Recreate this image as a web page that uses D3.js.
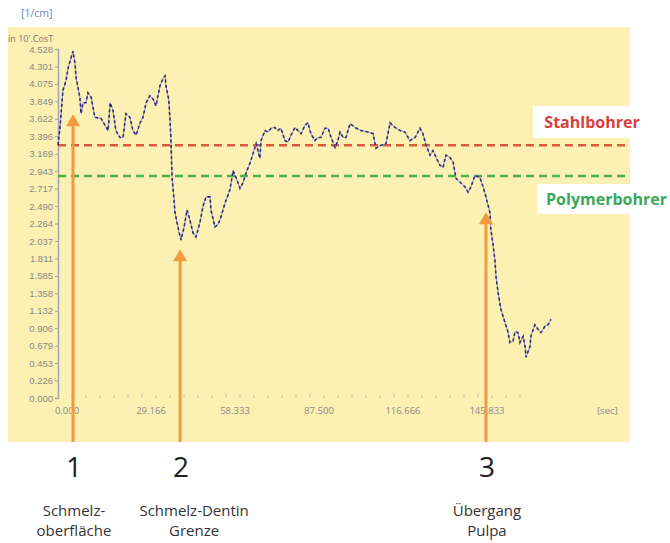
<!DOCTYPE html>
<html lang="de">
<head>
    <meta charset="UTF-8">
    <title>Bohrkurve</title>
    <script src="https://d3js.org/d3.v7.min.js"></script>
    <style>
        body {
            margin: 0;
            background: #ffffff;
            font-family: "Open Sans", "Liberation Sans", Arial, sans-serif;
        }
        .tick-label { fill: #8a8a8a; font-size: 9.5px; }
        .num { fill: #222; font-size: 28px; text-anchor: middle; }
        .desc { fill: #333; font-size: 15px; text-anchor: middle; }
    </style>
</head>
<body>
<svg id="chart" width="670" height="543"></svg>
<script>
    // measured curve: position and signal
    const position = [0, 0.7, 1.7, 2.8, 3.5, 4.5, 5.2, 5.9, 6.3, 7.6, 8.0, 8.7, 9.7, 10.4, 11.5, 12.8, 14.9, 16.3, 17.4, 18.1,
        19.1, 20.1, 21.5, 22.6, 23.6, 25.0, 26.0, 27.1, 28.5, 29.5, 30.6, 31.9, 33.0, 34.0, 35.4, 36.5, 37.2, 37.5, 38.5, 39.2,
        39.6, 40.3, 40.6, 41.7, 42.7, 43.8, 44.8, 45.8, 46.9, 47.9, 49.3, 50.3, 51.4, 52.8, 53.1, 54.5, 55.6, 56.6, 58.0, 59.7,
        60.8, 61.8, 63.2, 64.2, 65.3, 66.7, 67.7, 68.8, 70.1, 70.5, 71.9, 72.9, 74.0, 75.3, 76.4, 77.4, 78.8, 79.9, 80.9, 82.3,
        83.3, 84.4, 85.8, 86.8, 87.8, 89.2, 90.3, 91.3, 92.7, 93.8, 94.8, 96.2, 97.2, 97.9, 99.0, 100.0, 101.4, 103.1, 105.2, 107.6,
        109.4, 110.4, 112.2, 113.9, 115.3, 117.0, 118.8, 120.5, 122.2, 124.0, 125.7, 126.7, 127.8, 129.2, 130.2, 131.3, 132.6, 133.7, 134.7, 136.1,
        137.2, 138.2, 139.9, 141.3, 142.4, 143.4, 144.8, 146.5, 147.6, 148.6, 150.0, 150.3, 151.0, 151.7, 152.1, 152.8, 153.8, 155.2, 156.3, 156.9,
        158.0, 158.7, 159.7, 160.4, 161.5, 162.2, 162.5, 163.9, 164.2, 165.6, 166.7, 167.7, 169.1, 170.1, 171.2];
    const signal = [3.28, 3.51, 3.99, 4.12, 4.28, 4.41, 4.50, 4.34, 4.15, 3.90, 3.69, 3.83, 3.83, 3.96, 3.90, 3.64, 3.63, 3.54, 3.47, 3.83,
        3.73, 3.47, 3.38, 3.38, 3.69, 3.64, 3.47, 3.41, 3.57, 3.64, 3.83, 3.92, 3.88, 3.79, 4.05, 4.15, 4.18, 4.05, 3.86, 3.38,
        2.86, 2.57, 2.41, 2.21, 2.05, 2.22, 2.44, 2.31, 2.14, 2.09, 2.28, 2.48, 2.61, 2.61, 2.44, 2.22, 2.25, 2.35, 2.53, 2.70,
        2.95, 2.86, 2.72, 2.79, 2.92, 3.05, 3.17, 3.30, 3.11, 3.34, 3.47, 3.45, 3.50, 3.51, 3.47, 3.50, 3.34, 3.32, 3.41, 3.51,
        3.47, 3.43, 3.54, 3.57, 3.43, 3.34, 3.38, 3.38, 3.50, 3.50, 3.38, 3.25, 3.34, 3.45, 3.38, 3.38, 3.56, 3.51, 3.47, 3.45,
        3.43, 3.24, 3.28, 3.30, 3.57, 3.51, 3.47, 3.45, 3.34, 3.38, 3.50, 3.43, 3.28, 3.15, 3.21, 3.12, 3.02, 2.99, 3.15, 3.12,
        3.06, 2.85, 2.79, 2.74, 2.67, 2.74, 2.89, 2.86, 2.74, 2.61, 2.40, 2.18, 2.01, 1.79, 1.57, 1.37, 1.15, 0.98, 0.85, 0.72,
        0.74, 0.86, 0.85, 0.72, 0.80, 0.66, 0.53, 0.67, 0.80, 0.95, 0.89, 0.85, 0.93, 0.95, 1.02];

    const yTicks = ["0.000", "0.226", "0.453", "0.679", "0.906", "1.132", "1.358", "1.585", "1.811", "2.037", "2.264",
        "2.490", "2.717", "2.943", "3.169", "3.396", "3.622", "3.849", "4.075", "4.301", "4.528"];
    const xTicks = ["0.000", "29.166", "58.333", "87.500", "116.666", "145.833"];

    // reference levels
    const thresholds = [
        { name: "Stahlbohrer", value: 3.28, color: "#dc5a3c", text: "#d9403a" },
        { name: "Polymerbohrer", value: 2.88, color: "#45b545", text: "#3aa85a" }
    ];

    // annotations: position, arrow tip value, labels
    const markers = [
        { pos: 5.2, tip: 3.68, num: "1", lines: ["Schmelz-", "oberfläche"], dx: 1 },
        { pos: 42.4, tip: 1.93, num: "2", lines: ["Schmelz-Dentin", "Grenze"], dx: 14 },
        { pos: 148.6, tip: 2.41, num: "3", lines: ["Übergang", "Pulpa"], dx: 1 }
    ];

    const svg = d3.select("#chart");

    const x = d3.scaleLinear().domain([0, 175]).range([58, 562]);
    const y = d3.scaleLinear().domain([0, 4.528]).range([398, 49]);

    // background panel
    svg.append("rect")
        .attr("x", 8).attr("y", 27)
        .attr("width", 622).attr("height", 415)
        .attr("fill", "#fcf0b2");

    svg.append("text")
        .attr("x", 21).attr("y", 17)
        .attr("fill", "#6f86c4")
        .style("font-size", "10.5px")
        .text("[1/cm]");

    svg.append("text")
        .attr("x", 8).attr("y", 42)
        .attr("fill", "#777")
        .style("font-size", "9px")
        .text("in 10'.CosT");

    // y axis
    const yAxis = svg.append("g")
        .attr("transform", `translate(${x(0)},0)`)
        .call(d3.axisLeft(y)
            .tickValues(yTicks.map(Number))
            .tickFormat((d, i) => yTicks[i])
            .tickSize(3)
            .tickPadding(2));
    yAxis.select(".domain").attr("stroke", "#a3a3b8").attr("stroke-width", 1.5);
    yAxis.selectAll(".tick line").attr("stroke", "#a3a3b8");
    yAxis.selectAll(".tick text").attr("class", "tick-label").attr("font-family", null).attr("font-size", null);

    // x axis
    const xVals = xTicks.map(Number);
    const minor = d3.range(0, 34).map(i => i * 29.1666 / 6).filter(v => v < 166);
    svg.append("g")
        .attr("transform", `translate(0,${y(0)})`)
        .selectAll("line")
        .data(minor)
        .enter().append("line")
        .attr("x1", d => x(d)).attr("x2", d => x(d))
        .attr("y1", 0).attr("y2", (d, i) => i % 6 === 0 ? -5 : -3)
        .attr("stroke", "#c8c4a8");

    svg.append("g")
        .selectAll("text")
        .data(xTicks)
        .enter().append("text")
        .attr("class", "tick-label")
        .attr("x", (d, i) => x(xVals[i]) + 9)
        .attr("y", y(0) + 16)
        .attr("text-anchor", "middle")
        .text(d => d);

    svg.append("text")
        .attr("class", "tick-label")
        .attr("x", 597).attr("y", y(0) + 16)
        .text("[sec]");

    // threshold lines
    svg.selectAll(".thr")
        .data(thresholds)
        .enter().append("line")
        .attr("class", "thr")
        .attr("x1", x(0)).attr("x2", 630)
        .attr("y1", d => y(d.value)).attr("y2", d => y(d.value))
        .attr("stroke", d => d.color)
        .attr("stroke-width", 2.5)
        .attr("stroke-dasharray", "8,5");

    // threshold labels on white boxes
    const boxes = [{ x: 533, y: 106, w: 112, h: 32 }, { x: 537, y: 184, w: 133, h: 30 }];
    thresholds.forEach((t, i) => {
        svg.append("rect")
            .attr("x", boxes[i].x).attr("y", boxes[i].y)
            .attr("width", boxes[i].w).attr("height", boxes[i].h)
            .attr("fill", "#ffffff");
        svg.append("text")
            .attr("x", boxes[i].x + boxes[i].w / 2 + 3)
            .attr("y", boxes[i].y + boxes[i].h / 2 + 6)
            .attr("text-anchor", "middle")
            .attr("fill", t.text)
            .style("font-size", "16px")
            .style("font-weight", "bold")
            .text(t.name);
    });

    // data line
    const line = d3.line()
        .x((d, i) => x(position[i]))
        .y(d => y(d));

    svg.append("path")
        .datum(signal)
        .attr("fill", "none")
        .attr("stroke", "#8f8fd0")
        .attr("stroke-width", 1)
        .attr("d", line);

    svg.append("path")
        .datum(signal)
        .attr("fill", "none")
        .attr("stroke", "#2f2f78")
        .attr("stroke-width", 1.6)
        .attr("stroke-dasharray", "3,2.5")
        .attr("d", line);

    // arrows
    markers.forEach(m => {
        const ax = x(m.pos);
        const ty = y(m.tip);
        svg.append("line")
            .attr("x1", ax).attr("x2", ax)
            .attr("y1", 442).attr("y2", ty + 10)
            .attr("stroke", "#f29a3e")
            .attr("stroke-width", 3);
        svg.append("path")
            .attr("d", `M${ax - 7},${ty + 12} L${ax},${ty} L${ax + 7},${ty + 12} Z`)
            .attr("fill", "#f29a3e");
        svg.append("text")
            .attr("class", "num")
            .attr("x", ax + 1).attr("y", 477)
            .text(m.num);
        m.lines.forEach((t, j) => {
            svg.append("text")
                .attr("class", "desc")
                .attr("x", ax + m.dx).attr("y", 516 + j * 20)
                .text(t);
        });
    });
</script>
</body>
</html>
